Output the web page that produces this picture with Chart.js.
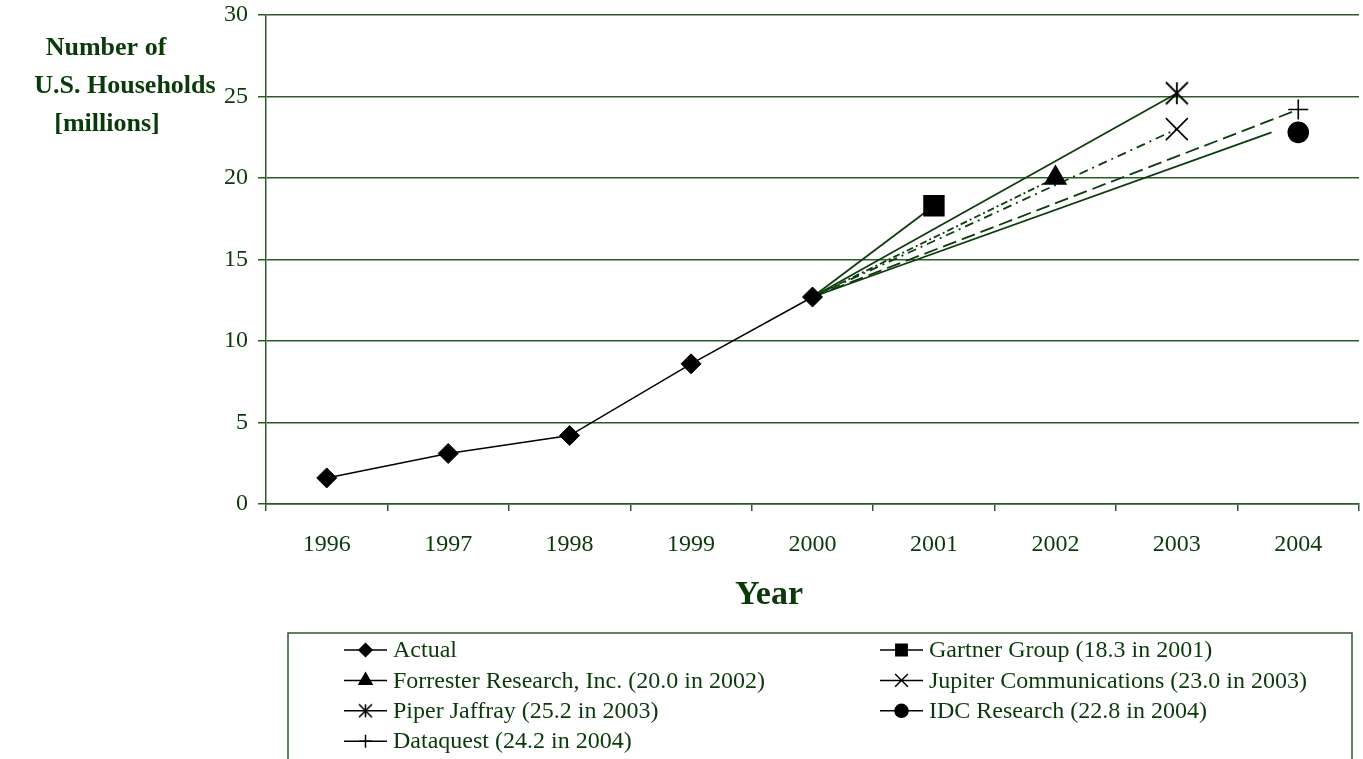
<!DOCTYPE html>
<html>
<head>
<meta charset="utf-8">
<title>U.S. Households Online</title>
<script src="https://cdn.jsdelivr.net/npm/chart.js@4/dist/chart.umd.min.js"></script>
<style>
  html, body { margin: 0; padding: 0; background: #ffffff; }
  #wrap { width: 1363px; height: 759px; position: relative; }
  canvas { display: block; }
</style>
</head>
<body>
<div id="wrap"><canvas id="chart" width="1363" height="759"></canvas></div>
<script>
// ---- data ----
const yearLabels = ['1996', '1997', '1998', '1999', '2000', '2001', '2002', '2003', '2004'];
const tickYears = [1996, 1997, 1998, 1999, 2000, 2001, 2002, 2003, 2004];

const actualYears = [1996, 1997, 1998, 1999, 2000];
const actualValues = [1.6, 3.1, 4.2, 8.6, 12.7];

const forecastNames = ['Gartner Group', 'Forrester Research, Inc.', 'Jupiter Communications',
                       'Piper Jaffray', 'IDC Research', 'Dataquest'];
const forecastYears = [2001, 2002, 2003, 2003, 2004, 2004];
const forecastValues = [18.3, 20.0, 23.0, 25.2, 22.8, 24.2];
// year at which each trend line from the last actual point stops
const forecastLineEnds = [2001, 2002, 2003, 2003, 2003.78, 2004];

const yTitleLines = ['Number of', 'U.S. Households', '[millions]'];
const xTitle = 'Year';

// ---- styling ----
const SERIF = "'Liberation Serif', 'Times New Roman', Times, serif";
const TEXT = '#0a3a0a';
const GRID = '#2b5a2b';
const TREND = '#0d3d0d';

// Excel-style asterisk marker (X plus a vertical bar)
function asterisk(half, lw) {
  const s = Math.ceil(half * 2 + lw * 2 + 2);
  const c = document.createElement('canvas');
  c.width = s; c.height = s;
  const g = c.getContext('2d');
  const m = s / 2;
  g.strokeStyle = '#000'; g.lineWidth = lw;
  g.beginPath();
  g.moveTo(m - half, m - half); g.lineTo(m + half, m + half);
  g.moveTo(m + half, m - half); g.lineTo(m - half, m + half);
  g.moveTo(m, m - half); g.lineTo(m, m + half);
  g.stroke();
  return c;
}

const markerStyles = ['rect', 'triangle', 'crossRot', asterisk(11, 1.8), 'circle', 'cross'];
const markerRadii = [14, 12, 15.5, 11, 10, 10];
const legendStyles = ['rect', 'triangle', 'crossRot', asterisk(6.5, 1.6), 'circle', 'cross'];
const legendRadii = [8, 7.5, 9, 7, 6.5, 6.5];
const trendDash = [[], [7, 3, 2, 3], [9, 5, 2, 5], [], [], [14, 6]];

// ---- datasets ----
const markerSets = forecastNames.map((name, i) => ({
  label: name,
  data: [{ x: forecastYears[i], y: forecastValues[i] }],
  showLine: false,
  pointStyle: markerStyles[i],
  pointRadius: markerRadii[i],
  pointBackgroundColor: '#000',
  pointBorderColor: '#000',
  pointBorderWidth: 1.6
}));

const actualSet = {
  label: 'Actual',
  data: actualYears.map((y, i) => ({ x: y, y: actualValues[i] })),
  borderColor: '#000',
  borderWidth: 1.5,
  pointStyle: 'rectRot',
  pointRadius: 10,
  pointBackgroundColor: '#000',
  pointBorderColor: '#000',
  pointBorderWidth: 1,
  tension: 0
};

const lastYear = actualYears[actualYears.length - 1];
const lastValue = actualValues[actualValues.length - 1];
const trendSets = forecastNames.map((name, i) => ({
  label: name + ' trend',
  data: [{ x: lastYear, y: lastValue }, { x: forecastLineEnds[i], y: forecastValues[i] }],
  borderColor: TREND,
  borderWidth: 1.8,
  borderDash: trendDash[i],
  pointRadius: 0,
  tension: 0
}));

// ---- legend entries (row-major, two columns) ----
const legendEntries = [{ text: 'Actual', style: 'rectRot', radius: 6.5 }];
forecastNames.forEach((name, i) => legendEntries.push({
  text: name + ' (' + forecastValues[i].toFixed(1) + ' in ' + forecastYears[i] + ')',
  style: legendStyles[i],
  radius: legendRadii[i]
}));

function noScalePadding(s) {
  s.paddingTop = 0; s.paddingBottom = 0; s.paddingLeft = 0; s.paddingRight = 0;
}

const decorations = {
  id: 'decorations',
  afterDraw(chart) {
    const ctx = chart.ctx;
    ctx.save();
    // vertical axis title, three centred lines
    ctx.fillStyle = TEXT;
    ctx.font = 'bold 26px ' + SERIF;
    ctx.textAlign = 'center';
    ctx.textBaseline = 'middle';
    const yCenters = [106, 125, 107];
    yTitleLines.forEach((t, i) => ctx.fillText(t, yCenters[i], 48 + i * 38));

    // horizontal axis title
    ctx.font = 'bold 34px ' + SERIF;
    ctx.fillText(xTitle, 769, 595);

    // legend frame
    ctx.strokeStyle = GRID;
    ctx.lineWidth = 1.5;
    ctx.strokeRect(288, 633, 1352 - 288, 160);

    // legend items
    ctx.font = '24px ' + SERIF;
    ctx.textAlign = 'left';
    const colX = [344, 880];
    legendEntries.forEach((e, k) => {
      const col = k % 2, row = Math.floor(k / 2);
      const x0 = colX[col];
      const y = 650 + row * 30.4;
      ctx.strokeStyle = '#000';
      ctx.lineWidth = 1.5;
      ctx.setLineDash([]);
      ctx.beginPath();
      ctx.moveTo(x0, y);
      ctx.lineTo(x0 + 43, y);
      ctx.stroke();
      ctx.fillStyle = '#000';
      ctx.strokeStyle = '#000';
      ctx.lineWidth = 1.5;
      if (Chart.helpers && Chart.helpers.drawPoint) {
        Chart.helpers.drawPoint(ctx, {
          pointStyle: e.style, radius: e.radius, rotation: 0, borderWidth: 1.5
        }, x0 + 21.5, y);
      }
      ctx.fillStyle = TEXT;
      ctx.fillText(e.text, x0 + 49, y + 1);
    });
    ctx.restore();
  }
};

new Chart(document.getElementById('chart'), {
  type: 'line',
  data: { datasets: [...markerSets, actualSet, ...trendSets] },
  options: {
    responsive: false,
    animation: false,
    layout: { autoPadding: false, padding: { top: 15, right: 4, left: 0, bottom: 0 } },
    plugins: {
      legend: { display: false },
      tooltip: { enabled: false },
      title: { display: false }
    },
    scales: {
      x: {
        type: 'linear',
        min: 1995.5,
        max: 2004.5,
        afterBuildTicks: (s) => { s.ticks = tickYears.map(v => ({ value: v })); },
        afterFit: (s) => { s.height = 255; noScalePadding(s); },
        ticks: {
          autoSkip: false, maxRotation: 0, minRotation: 0, padding: 19,
          color: TEXT, font: { family: SERIF, size: 24 },
          callback: (v, i) => yearLabels[i]
        },
        grid: {
          offset: true, drawOnChartArea: false, drawTicks: true,
          tickLength: 7, color: GRID, lineWidth: 1.5
        },
        border: { display: true, color: GRID, width: 1.5 }
      },
      y: {
        type: 'linear',
        min: 0,
        max: 30,
        afterFit: (s) => { s.width = 266; noScalePadding(s); },
        ticks: {
          stepSize: 5, padding: 10,
          color: TEXT, font: { family: SERIF, size: 24 }
        },
        grid: { color: GRID, lineWidth: 1.5, tickLength: 8, drawTicks: true },
        border: { display: true, color: GRID, width: 1.5 }
      }
    }
  },
  plugins: [decorations]
});
</script>
</body>
</html>
